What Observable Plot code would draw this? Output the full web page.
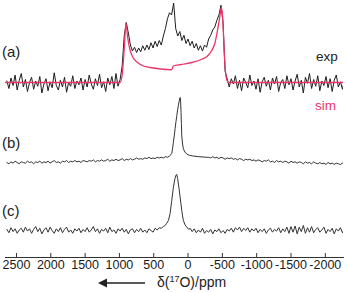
<!DOCTYPE html>
<html><head><meta charset="utf-8">
<script src="https://cdn.jsdelivr.net/npm/d3@7"></script>
<script src="https://cdn.jsdelivr.net/npm/@observablehq/plot@0.6"></script>
<style>
body{margin:0;background:#fff;}
#wrap{position:relative;width:347px;height:292px;font-family:"Liberation Sans",Arial,sans-serif;color:#222;}
#wrap svg.plot{position:absolute;left:0;top:0;}
.lab{position:absolute;line-height:1;white-space:nowrap;}
</style></head>
<body><div id="wrap"></div>
<script>
// x grid (ppm) shared by the spectra
const ppmGrid = [
2640,2610,2580,2550,2520,2490,2460,2430,2400,2370,
2340,2310,2280,2250,2220,2190,2160,2130,2100,2070,
2040,2010,1980,1950,1920,1890,1860,1830,1800,1770,
1740,1710,1680,1650,1620,1590,1560,1530,1500,1470,
1440,1410,1380,1350,1320,1290,1260,1230,1200,1170,
1140,1110,1080,1050,1020,990,960,930,900,870,
840,810,780,750,720,690,660,630,600,570,
540,510,480,450,420,390,360,330,300,270,
240,210,180,150,120,90,60,30,0,-30,
-60,-90,-120,-150,-180,-210,-240,-270,-300,-330,
-360,-390,-420,-450,-480,-510,-540,-570,-600,-630,
-660,-690,-720,-750,-780,-810,-840,-870,-900,-930,
-960,-990,-1020,-1050,-1080,-1110,-1140,-1170,-1200,-1230,
-1260,-1290,-1320,-1350,-1380,-1410,-1440,-1470,-1500,-1530,
-1560,-1590,-1620,-1650,-1680,-1710,-1740,-1770,-1800,-1830,
-1860,-1890,-1920,-1950,-1980,-2010,-2040,-2070,-2100,-2130,
-2160,-2190,-2220,-2250,-2280];

// (a) experimental
const expA = [
0.02,-0.08,0.06,-0.04,0.1,-0.1,0.03,0.12,-0.06,0.04,
-0.12,0.0,0.07,-0.09,0.02,-0.05,0.08,-0.14,-0.02,0.05,
-0.11,0.01,-0.07,0.13,-0.04,-0.1,0.03,-0.06,0.07,-0.13,
0.0,-0.05,0.09,-0.08,0.02,-0.03,0.06,-0.1,0.04,-0.06,
0.1,-0.02,-0.09,0.05,-0.04,0.11,-0.07,0.01,-0.12,0.06,
-0.03,0.08,-0.08,0.12,-0.05,0.04,0.22,0.62,0.8,0.66,
0.5,0.42,0.47,0.4,0.46,0.41,0.49,0.43,0.5,0.44,
0.53,0.46,0.55,0.48,0.56,0.5,0.62,0.72,0.85,0.93,
0.9,1.06,0.72,0.62,0.68,0.56,0.63,0.52,0.58,0.49,
0.55,0.46,0.52,0.43,0.49,0.42,0.5,0.47,0.58,0.63,
0.7,0.74,0.83,0.9,1.03,0.8,0.15,0.05,-0.06,0.05,
-0.02,0.09,-0.08,0.03,-0.11,0.06,0.0,-0.07,0.1,-0.04,
0.02,-0.09,0.05,-0.13,0.01,0.07,-0.05,0.03,-0.1,0.06,
-0.02,0.08,-0.12,0.0,0.04,-0.08,0.09,-0.03,0.05,-0.1,
0.02,0.11,-0.06,0.03,-0.14,0.07,-0.01,0.12,-0.08,0.04,
-0.05,0.09,-0.11,0.02,-0.04,0.08,-0.07,0.05,-0.12,0.03,
0.1,-0.06,0.01,-0.09,0.04];

// (a) simulation
const simPpm = [2660,990,960,930,905,880,850,800,740,650,550,400,240,215,100,-70,-200,-280,-340,-390,-430,-460,-485,-505,-530,-555,-590,-2265];
const simA = [0,0,0.1,0.45,0.79,0.6,0.45,0.33,0.27,0.22,0.2,0.18,0.17,0.22,0.24,0.27,0.31,0.35,0.42,0.52,0.7,0.86,1.0,0.85,0.35,0.07,0,0];

// (b)
const bLeft = [
0.0,-0.02,0.01,-0.01,0.02,0.0,-0.02,0.01,0.0,-0.01,
0.02,0.0,0.01,-0.02,0.01,0.0,0.02,-0.01,0.01,0.0,
0.02,-0.01,0.01,0.03,0.0,0.01,-0.01,0.02,0.01,0.03,
0.0,0.02,0.01,0.03,0.01,0.02,0.0,0.03,0.02,0.01,
0.03,0.02,0.04,0.01,0.03,0.02,0.04,0.02,0.03,0.05,
0.02,0.04,0.03,0.05,0.03,0.04,0.06,0.03,0.05,0.04,
0.06,0.04,0.05,0.07,0.05,0.06,0.05,0.07,0.06,0.08,
0.06,0.07,0.06,0.08,0.07,0.08,0.07,0.09];
const bPeakPpm = [300,270,250,237,225,214,200,189,176,164,152,141,130,120,114,108,102,97,92,82,68,45,19,-20,-77,-150,-272];
const bPeak = [0.08,0.1,0.12,0.14,0.22,0.31,0.42,0.52,0.63,0.72,0.81,0.88,0.94,0.99,1.0,0.93,0.77,0.6,0.42,0.3,0.21,0.16,0.13,0.11,0.1,0.09,0.08];
const bRight = [
0.08,0.07,
0.09,0.07,0.08,0.06,0.08,0.07,0.05,0.07,0.06,0.07,
0.05,0.06,0.04,0.06,0.05,0.03,0.05,0.04,0.05,0.03,
0.04,0.02,0.04,0.03,0.01,0.03,0.02,0.04,0.01,0.02,
0.0,0.03,0.01,0.02,0.0,0.02,0.01,-0.01,0.02,0.0,
0.01,-0.01,0.01,0.0,-0.02,0.01,-0.01,0.0,-0.02,0.01,
-0.01,-0.02,0.0,-0.02,-0.01,-0.03,0.0,-0.02,-0.01,-0.03,
-0.01,-0.02,-0.03,-0.01,-0.02];

// (c)
const cLeft = [
0.02,-0.04,0.05,-0.02,0.03,-0.05,0.01,0.04,-0.03,0.06,
-0.01,0.03,-0.05,0.02,0.07,-0.02,0.04,-0.06,0.01,0.05,
-0.03,0.06,0.0,-0.05,0.03,-0.02,0.05,-0.04,0.02,0.06,
-0.03,0.01,-0.05,0.03,-0.01,0.04,-0.04,0.02,-0.02,0.05,
-0.03,0.01,0.07,-0.02,0.03,-0.05,0.02,-0.01,0.04,-0.04,
0.06,-0.02,0.01,-0.05,0.03,-0.01,0.04,-0.03,0.02,-0.06,
0.01,0.03,-0.04,0.02,-0.02,0.04,-0.03,0.01,-0.04,0.03,
0.0,-0.03,0.04,0.01,0.05];
const cPeakPpm = [390,360,334,310,286,262,237,214,190,175,164,152,141,128,116,104,92,80,68,44,19,-10,-30];
const cPeak = [0.04,0.07,0.09,0.13,0.18,0.3,0.54,0.77,0.93,0.99,1.0,0.93,0.83,0.72,0.6,0.48,0.36,0.26,0.18,0.1,0.06,0.02,0.04];
const cRight = [
-0.02,0.03,-0.04,0.01,-0.03,0.04,-0.05,0.0,-0.03,0.02,
-0.06,0.01,-0.02,0.03,-0.04,0.0,-0.05,0.02,-0.01,0.04,
-0.03,0.05,0.01,0.06,-0.02,0.04,0.0,0.05,-0.03,0.03,
-0.01,0.04,-0.04,0.02,-0.02,0.03,-0.05,0.01,0.04,-0.03,
0.02,-0.01,0.05,-0.04,0.03,-0.02,0.06,-0.05,0.07,-0.03,
0.08,-0.06,0.06,-0.02,0.09,-0.05,0.05,-0.03,0.07,-0.04,
0.02,0.05,-0.03,0.01,0.06,-0.05,0.02,-0.02,0.04,-0.06,
0.03,-0.01,0.05,-0.04,0.02];

const xTicks = [2500,2000,1500,1000,500,0,-500,-1000,-1500,-2000];
const panelLabels = ["(a)","(b)","(c)"];
const legendLabels = ["exp","sim"];
const axisTitle = "δ(<sup>17</sup>O)/ppm";

// build tables
const zip = (xs, ys) => xs.map((x, i) => ({x, y: ys[i]}));
const expData = zip(ppmGrid, expA);
const simData = zip(simPpm, simA);
const bPpm = [...ppmGrid.filter(p => p >= 330), ...bPeakPpm, ...ppmGrid.filter(p => p <= -300)];
const bData = zip(bPpm, [...bLeft, ...bPeak, ...bRight]);
const cPpm = [...ppmGrid.filter(p => p >= 420), ...cPeakPpm, ...ppmGrid.filter(p => p <= -60)];
const cData = zip(cPpm, [...cLeft, ...cPeak, ...cRight]);

// layout
const W = 347, H = 292, MB = 35, MT = 0, ML = 5, MR = 4;
const frameH = H - MT - MB;
function yDom(basePx, peakPx) {
  const unit = basePx - peakPx;
  const hi = 1 + (peakPx - MT) / unit;
  return [hi - frameH / unit, hi];
}
const SIM = "#ec3468";
const font = '"Liberation Sans", Arial, sans-serif';
function panel(marks, yd, withAxis) {
  const p = Plot.plot({
    width: W, height: H, marginTop: MT, marginBottom: MB, marginLeft: ML, marginRight: MR,
    style: {background: "transparent", fontFamily: font, overflow: "visible"},
    x: {domain: [2660, -2265], axis: null},
    y: {domain: yd, axis: null},
    marks: [
      ...marks,
      ...(withAxis ? [
        Plot.frame({anchor: "bottom", stroke: "#333", strokeWidth: 1}),
        Plot.tickX(xTicks, {x: d => d, stroke: "#333", insetTop: frameH - 4}),
        Plot.axisX(xTicks, {tickSize: 0, tickPadding: 3, tickFormat: d => String(d), fontSize: 12.5, fill: "#1a1a1a", label: null})
      ] : [])
    ]
  });
  p.classList.add("plot");
  return p;
}
const wrap = document.getElementById("wrap");
wrap.append(panel([
  Plot.line(expData, {x: "x", y: "y", stroke: "#1e1e1e", strokeWidth: 1, clip: true}),
  Plot.line(simData, {x: "x", y: "y", stroke: SIM, strokeWidth: 1.3, curve: "monotone-x", clip: true})
], yDom(82, 7), false));
wrap.append(panel([
  Plot.line(bData, {x: "x", y: "y", stroke: "#333", strokeWidth: 1, clip: true})
], yDom(162, 97), false));
wrap.append(panel([
  Plot.line(cData, {x: "x", y: "y", stroke: "#333", strokeWidth: 1, clip: true})
], yDom(230, 174), true));

function lab(text, x, y, size, color) {
  const d = document.createElement("div");
  d.className = "lab";
  d.innerHTML = text;
  d.style.left = x + "px"; d.style.top = (y - size * 0.55) + "px";
  d.style.fontSize = size + "px"; d.style.color = color;
  wrap.append(d);
}
lab(panelLabels[0], 2, 52, 15, "#222");
lab(panelLabels[1], 2, 143, 15, "#222");
lab(panelLabels[2], 2, 211, 15, "#222");
lab(legendLabels[0], 316, 57, 13.5, "#222");
lab(legendLabels[1], 315, 106, 13.5, SIM);
lab(axisTitle.replace("<sup>", '<sup style="font-size:9px;vertical-align:5px;line-height:0">'), 157, 283, 14, "#222");

// arrow (decoration)
const ns = "http://www.w3.org/2000/svg";
const arr = document.createElementNS(ns, "svg");
arr.setAttribute("width", 60); arr.setAttribute("height", 12);
arr.style.position = "absolute"; arr.style.left = "95px"; arr.style.top = "277px";
arr.innerHTML = '<line x1="9" y1="6" x2="50" y2="6" stroke="#222" stroke-width="1.6"/><path d="M3,6 L12,1.5 L12,10.5 Z" fill="#222"/>';
wrap.append(arr);
</script></body></html>
